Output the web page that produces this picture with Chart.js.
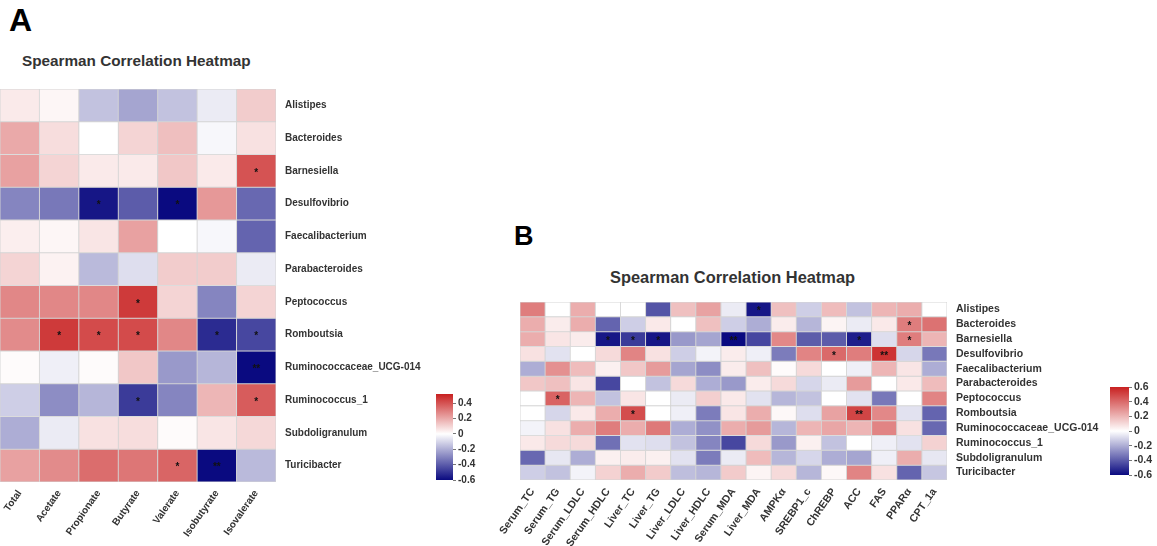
<!DOCTYPE html>
<html>
<head>
<meta charset="utf-8">
<script src="https://cdn.jsdelivr.net/npm/chart.js@4.4.1/dist/chart.umd.min.js"></script>
<style>
  body { margin: 0; width: 1157px; height: 546px; background: #fff; position: relative; overflow: hidden; font-family: "Liberation Sans", Arial, sans-serif; }
  canvas { position: absolute; }
  .tag { position: absolute; font-weight: bold; color: #000; line-height: 1; }
  .ttl { position: absolute; font-weight: bold; color: #333; line-height: 1; white-space: nowrap; }
</style>
</head>
<body>
<div class="tag" style="left:9px;top:4px;font-size:32px">A</div>
<div class="ttl" style="left:22px;top:53px;font-size:15.3px">Spearman Correlation Heatmap</div>
<div class="tag" style="left:514px;top:223px;font-size:27px">B</div>
<div class="ttl" style="left:610px;top:269px;font-size:16.4px">Spearman Correlation Heatmap</div>

<canvas id="heatA" width="432" height="467" style="left:0;top:79px"></canvas>
<canvas id="barA" width="60" height="106" style="left:436px;top:384px"></canvas>
<canvas id="heatB" width="615" height="254" style="left:490px;top:292px"></canvas>
<canvas id="barB" width="47" height="108" style="left:1110px;top:377px"></canvas>

<script>
// ---- panel A: bacteria vs short chain fatty acids
const rowsA = ['Alistipes', 'Bacteroides', 'Barnesiella', 'Desulfovibrio', 'Faecalibacterium', 'Parabacteroides',
  'Peptococcus', 'Romboutsia', 'Ruminococcaceae_UCG-014', 'Ruminococcus_1', 'Subdoligranulum', 'Turicibacter'];
const colsA = ['Total', 'Acetate', 'Propionate', 'Butyrate', 'Valerate', 'Isobutyrate', 'Isovalerate'];
const valsA = [
  [0.05, 0.02, -0.15, -0.22, -0.15, -0.05, 0.12],
  [0.20, 0.08, 0.00, 0.10, 0.15, -0.02, 0.07],
  [0.22, 0.10, 0.05, 0.05, 0.13, 0.05, 0.40],
  [-0.30, -0.33, -0.57, -0.40, -0.60, 0.24, -0.37],
  [0.04, 0.02, 0.06, 0.22, 0.00, -0.02, -0.38],
  [0.10, 0.03, -0.17, -0.08, 0.12, 0.12, -0.05],
  [0.28, 0.28, 0.28, 0.46, 0.10, -0.30, 0.10],
  [0.27, 0.46, 0.42, 0.42, 0.28, -0.52, -0.45],
  [0.01, -0.04, 0.01, 0.13, -0.25, -0.18, -0.62],
  [-0.12, -0.28, -0.18, -0.48, -0.30, 0.17, 0.38],
  [-0.20, -0.05, 0.07, 0.08, 0.01, 0.06, 0.09],
  [0.22, 0.27, 0.34, 0.32, 0.36, -0.60, -0.17]
];
const sigA = [
  ['Barnesiella', 'Isovalerate', '*'], ['Desulfovibrio', 'Propionate', '*'], ['Desulfovibrio', 'Valerate', '*'],
  ['Peptococcus', 'Butyrate', '*'], ['Romboutsia', 'Acetate', '*'], ['Romboutsia', 'Propionate', '*'],
  ['Romboutsia', 'Butyrate', '*'], ['Romboutsia', 'Isobutyrate', '*'], ['Romboutsia', 'Isovalerate', '*'],
  ['Ruminococcaceae_UCG-014', 'Isovalerate', '**'], ['Ruminococcus_1', 'Butyrate', '*'],
  ['Ruminococcus_1', 'Isovalerate', '*'], ['Turicibacter', 'Valerate', '*'], ['Turicibacter', 'Isobutyrate', '**']
];
const legendA = [-0.6, -0.4, -0.2, 0, 0.2, 0.4];
const rangeA = [-0.6, 0.52];

// ---- panel B: bacteria vs serum / liver markers
const rowsB = rowsA.slice();
const colsB = ['Serum_TC', 'Serum_TG', 'Serum_LDLC', 'Serum_HDLC', 'Liver_TC', 'Liver_TG', 'Liver_LDLC', 'Liver_HDLC',
  'Serum_MDA', 'Liver_MDA', 'AMPKα', 'SREBP1_c', 'ChREBP', 'ACC', 'FAS', 'PPARα', 'CPT_1a'];
const valsB = [
  [0.35, 0.00, 0.22, 0.00, 0.00, -0.42, 0.17, 0.25, -0.05, -0.57, 0.17, -0.12, 0.18, -0.15, 0.20, 0.22, 0.00],
  [0.22, 0.05, 0.22, -0.38, -0.12, 0.06, 0.00, 0.17, -0.12, -0.20, 0.05, -0.18, 0.03, -0.05, 0.06, 0.35, 0.38],
  [0.22, 0.07, 0.05, -0.57, -0.48, -0.57, -0.25, -0.22, -0.62, -0.45, 0.32, -0.40, -0.40, -0.55, -0.08, 0.35, 0.20],
  [0.08, -0.07, 0.00, 0.10, 0.33, 0.08, -0.12, -0.03, 0.05, -0.04, -0.32, 0.33, 0.40, 0.35, 0.55, -0.10, -0.33],
  [-0.20, 0.30, 0.18, 0.04, 0.15, 0.27, -0.22, -0.28, 0.05, 0.17, 0.01, 0.10, 0.00, -0.04, 0.20, 0.07, -0.20],
  [0.15, 0.17, 0.07, -0.45, 0.00, -0.15, 0.10, -0.20, -0.25, 0.05, 0.10, -0.10, -0.05, 0.27, 0.00, 0.06, 0.18],
  [0.00, 0.42, 0.20, -0.15, 0.07, 0.00, -0.05, 0.13, 0.06, -0.07, -0.18, -0.15, 0.00, -0.07, -0.33, 0.00, 0.33],
  [0.00, -0.10, 0.06, 0.22, 0.48, 0.00, -0.04, -0.32, 0.07, 0.22, 0.02, -0.08, 0.25, 0.50, 0.32, -0.07, -0.38],
  [-0.03, 0.08, 0.22, 0.35, 0.22, 0.36, -0.20, -0.27, 0.22, 0.27, -0.18, 0.20, 0.24, 0.20, 0.33, 0.08, -0.37],
  [0.06, 0.10, 0.10, -0.35, -0.07, -0.08, -0.15, -0.30, -0.45, 0.10, -0.25, 0.04, -0.15, 0.00, -0.04, -0.07, 0.12],
  [-0.37, -0.06, -0.20, 0.04, 0.05, 0.04, -0.07, -0.32, -0.05, 0.18, -0.18, -0.10, -0.20, -0.22, -0.04, 0.22, -0.06],
  [-0.12, -0.15, -0.03, 0.12, 0.22, 0.14, -0.16, -0.18, 0.14, 0.03, 0.10, -0.18, 0.02, 0.33, 0.08, -0.38, -0.14]
];
const sigB = [
  ['Alistipes', 'Liver_MDA', '*'], ['Bacteroides', 'PPARα', '*'],
  ['Barnesiella', 'Serum_HDLC', '*'], ['Barnesiella', 'Liver_TC', '*'], ['Barnesiella', 'Liver_TG', '*'],
  ['Barnesiella', 'Serum_MDA', '**'], ['Barnesiella', 'ACC', '*'], ['Barnesiella', 'PPARα', '*'],
  ['Desulfovibrio', 'ChREBP', '*'], ['Desulfovibrio', 'FAS', '**'],
  ['Peptococcus', 'Serum_TG', '*'], ['Romboutsia', 'Liver_TC', '*'], ['Romboutsia', 'ACC', '**']
];
const legendB = [-0.6, -0.4, -0.2, 0, 0.2, 0.4, 0.6];
const rangeB = [-0.6, 0.6];

const FONT = 'Liberation Sans';
const INK = '#333';

// navy -> white -> firebrick, white sitting at 0
function heatColor(v, lo, hi) {
  const white = [255, 255, 255];
  const end = v < 0 ? [10, 10, 128] : [200, 32, 32];
  const t = Math.min(v < 0 ? v / lo : v / hi, 1);
  const c = white.map((w, k) => Math.round(w + (end[k] - w) * t));
  return 'rgb(' + c.join(',') + ')';
}

// chart.js pads the plot for long rotated labels, we place it ourselves
function noPad(s) {
  s.paddingLeft = 0; s.paddingRight = 0; s.paddingTop = 0; s.paddingBottom = 0;
}

const starPlugin = {
  id: 'stars',
  afterDatasetsDraw(chart, args, opts) {
    const { ctx } = chart;
    const x = chart.scales.x, y = chart.scales.y;
    ctx.save();
    ctx.fillStyle = '#111';
    ctx.font = 'bold 10px "' + FONT + '"';
    ctx.textAlign = 'center';
    ctx.textBaseline = 'middle';
    opts.marks.forEach(function (m) {
      const px = x.getPixelForValue(opts.cols.indexOf(m[1]));
      const py = y.getPixelForValue(opts.rows.indexOf(m[0]) + 0.5);
      ctx.fillText(m[2], px, py + 2);
    });
    ctx.restore();
  }
};

function heatmap(id, rows, cols, vals, sig, range, o) {
  return new Chart(document.getElementById(id), {
    type: 'bar',
    data: {
      labels: cols,
      datasets: rows.map(function (r, i) {
        return {
          label: r,
          data: cols.map(function () { return 1; }),   // one cell tall
          backgroundColor: vals[i].map(function (v) { return heatColor(v, range[0], range[1]); }),
          borderColor: '#d4d4d4',
          borderWidth: 0.8,
          borderSkipped: false,
          barPercentage: 1,
          categoryPercentage: 1
        };
      })
    },
    options: {
      responsive: false,
      animation: false,
      events: [],
      layout: { padding: { top: 10, left: o.left } },
      plugins: {
        legend: { display: false },
        tooltip: { enabled: false },
        stars: { marks: sig, rows: rows, cols: cols }
      },
      scales: {
        x: {
          stacked: true,
          grid: { display: false, drawTicks: false },
          border: { display: false },
          afterFit: function (s) { s.height = o.xh; noPad(s); },
          ticks: {
            autoSkip: false, minRotation: 55, maxRotation: 55, padding: o.xpad,
            color: INK, font: { family: FONT, size: o.xfs, weight: 'bold' }
          }
        },
        y: {
          type: 'linear', stacked: true, position: 'right', reverse: true,
          min: 0, max: rows.length,
          grid: { display: false, drawTicks: false },
          border: { display: false },
          afterBuildTicks: function (s) { s.ticks = rows.map(function (_, i) { return { value: i + 0.5 }; }); },
          afterFit: function (s) { s.width = o.yw; noPad(s); },
          ticks: {
            autoSkip: false, padding: 9,
            color: INK, font: { family: FONT, size: o.yfs, weight: 'bold' },
            callback: function (v) { return rows[Math.floor(v)]; }
          }
        }
      }
    },
    plugins: [starPlugin]
  });
}

function colorBar(id, range, ticks, fs, axisW) {
  const lo = range[0], hi = range[1];
  return new Chart(document.getElementById(id), {
    type: 'bar',
    data: {
      labels: [''],
      datasets: [{
        data: [[lo, hi]],
        barPercentage: 1,
        categoryPercentage: 1,
        borderWidth: 0,
        backgroundColor: function (c) {
          const ch = c.chart;
          if (!ch.chartArea) return '#fff';
          const y = ch.scales.y;
          const g = ch.ctx.createLinearGradient(0, y.getPixelForValue(lo), 0, y.getPixelForValue(hi));
          g.addColorStop(0, heatColor(lo, lo, hi));
          g.addColorStop((0 - lo) / (hi - lo), '#fff');
          g.addColorStop(1, heatColor(hi, lo, hi));
          return g;
        }
      }]
    },
    options: {
      responsive: false,
      animation: false,
      events: [],
      layout: { padding: { top: 10, bottom: 10 } },
      plugins: { legend: { display: false }, tooltip: { enabled: false } },
      scales: {
        x: { display: false },
        y: {
          position: 'right', min: lo, max: hi,
          afterBuildTicks: function (s) { s.ticks = ticks.map(function (v) { return { value: v }; }); },
          afterFit: function (s) { s.width = axisW; noPad(s); },
          grid: { drawOnChartArea: false, tickLength: 3, color: '#777' },
          border: { display: false },
          ticks: {
            autoSkip: false, padding: 2, color: INK, font: { family: FONT, size: fs, weight: 'bold' },
            callback: function (v) { return v === 0 ? '0' : v.toFixed(1); }
          }
        }
      }
    }
  });
}

heatmap('heatA', rowsA, colsA, valsA, sigA, rangeA, { left: 0, xh: 64, yw: 156, xfs: 10, yfs: 10, xpad: 6 });
heatmap('heatB', rowsB, colsB, valsB, sigB, rangeB, { left: 30, xh: 66, yw: 158, xfs: 10.6, yfs: 10.5, xpad: 6 });
colorBar('barA', rangeA, legendA, 10, 43);
colorBar('barB', rangeB, legendB, 10.5, 28);
</script>
</body>
</html>
